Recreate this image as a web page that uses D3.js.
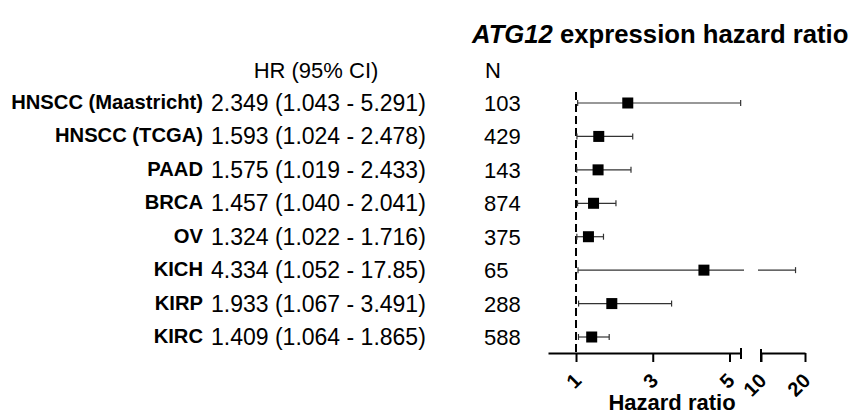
<!DOCTYPE html>
<html>
<head>
<meta charset="utf-8">
<script src="https://cdn.jsdelivr.net/npm/d3@7"></script>
<style>
  body { margin: 0; background: #fff; }
  text { font-family: "Liberation Sans", Arial, sans-serif; fill: #000; }
</style>
</head>
<body>
<div id="chart"></div>
<script>
// data
var cohorts = ["HNSCC (Maastricht)", "HNSCC (TCGA)", "PAAD", "BRCA", "OV", "KICH", "KIRP", "KIRC"];
var hr      = [2.349, 1.593, 1.575, 1.457, 1.324, 4.334, 1.933, 1.409];
var lower   = [1.043, 1.024, 1.019, 1.040, 1.022, 1.052, 1.067, 1.064];
var upper   = [5.291, 2.478, 2.433, 2.041, 1.716, 17.85, 3.491, 1.865];
var hrText  = ["2.349 (1.043 - 5.291)", "1.593 (1.024 - 2.478)", "1.575 (1.019 - 2.433)",
               "1.457 (1.040 - 2.041)", "1.324 (1.022 - 1.716)", "4.334 (1.052 - 17.85)",
               "1.933 (1.067 - 3.491)", "1.409 (1.064 - 1.865)"];
var nText   = ["103", "429", "143", "874", "375", "65", "288", "588"];
var ticks1  = [1, 3, 5];
var ticks2  = [10, 20];

var width = 852, height = 417;

var svg = d3.select("#chart").append("svg")
    .attr("width", width)
    .attr("height", height);

// rows
var y = d3.scalePoint()
    .domain(cohorts)
    .range([103, 337]);

// broken x axis: two linear pieces
var x1 = d3.scaleLinear().domain([0.27, 5.3]).range([548, 741]);
var x2 = d3.scaleLinear().domain([10, 20]).range([761, 805]);
var axisY = 353;

function xPos(v) {
    return v <= 5.3 ? x1(v) : x2(v);
}

var rows = cohorts.map(function(c, i) {
    return {name: c, hr: hr[i], lo: lower[i], hi: upper[i], txt: hrText[i], n: nText[i]};
});

// title
var title = svg.append("text")
    .attr("x", 472)
    .attr("y", 43)
    .style("font-size", "25.7px")
    .style("font-weight", "bold");
title.append("tspan").style("font-style", "italic").text("ATG12");
title.append("tspan").text(" expression hazard ratio");

// column headers
svg.append("text")
    .attr("x", 316)
    .attr("y", 78)
    .attr("text-anchor", "middle")
    .style("font-size", "22px")
    .text("HR (95% CI)");

svg.append("text")
    .attr("x", 485)
    .attr("y", 78)
    .style("font-size", "22px")
    .text("N");

// cohort labels
svg.selectAll(".label")
    .data(rows)
    .enter().append("text")
    .attr("class", "label")
    .attr("x", 203)
    .attr("y", function(d) { return y(d.name) + 6; })
    .attr("text-anchor", "end")
    .style("font-size", "20.2px")
    .style("font-weight", "bold")
    .text(function(d) { return d.name; });

// HR (95% CI) column
svg.selectAll(".hrtxt")
    .data(rows)
    .enter().append("text")
    .attr("class", "hrtxt")
    .attr("x", 211)
    .attr("y", function(d) { return y(d.name) + 8; })
    .style("font-size", "23px")
    .text(function(d) { return d.txt; });

// N column
svg.selectAll(".ntxt")
    .data(rows)
    .enter().append("text")
    .attr("class", "ntxt")
    .attr("x", 484)
    .attr("y", function(d) { return y(d.name) + 8; })
    .style("font-size", "22px")
    .text(function(d) { return d.n; });

// reference line at HR = 1
svg.append("line")
    .attr("x1", x1(1)).attr("x2", x1(1))
    .attr("y1", 92).attr("y2", axisY)
    .attr("stroke", "#000")
    .attr("stroke-width", 2)
    .style("stroke-dasharray", "8, 4");

// CI lines (split at the axis break)
var ci = svg.append("g");
rows.forEach(function(d) {
    var yy = y(d.name);
    if (d.hi <= 5.3) {
        ci.append("line")
            .attr("x1", xPos(d.lo)).attr("x2", xPos(d.hi))
            .attr("y1", yy).attr("y2", yy)
            .attr("stroke", "#333").attr("stroke-width", 1.2);
    } else {
        ci.append("line")
            .attr("x1", xPos(d.lo)).attr("x2", x1.range()[1] + 3)
            .attr("y1", yy).attr("y2", yy)
            .attr("stroke", "#333").attr("stroke-width", 1.2);
        ci.append("line")
            .attr("x1", x2.range()[0] - 3).attr("x2", xPos(d.hi))
            .attr("y1", yy).attr("y2", yy)
            .attr("stroke", "#333").attr("stroke-width", 1.2);
    }
    [d.lo, d.hi].forEach(function(v) {
        ci.append("line")
            .attr("x1", xPos(v)).attr("x2", xPos(v))
            .attr("y1", yy - 3).attr("y2", yy + 3)
            .attr("stroke", "#333").attr("stroke-width", 1.2);
    });
});

// squares
var s = 11;
svg.selectAll(".pt")
    .data(rows)
    .enter().append("rect")
    .attr("class", "pt")
    .attr("x", function(d) { return xPos(d.hr) - s / 2; })
    .attr("y", function(d) { return y(d.name) - s / 2; })
    .attr("width", s)
    .attr("height", s)
    .attr("fill", "#000");

// x axis, segment 1
var ax1 = svg.append("g")
    .attr("transform", "translate(0," + axisY + ")")
    .call(d3.axisBottom(x1).tickValues(ticks1).tickSize(9).tickSizeOuter(0).tickFormat(d3.format("d")));

// x axis, segment 2
var ax2 = svg.append("g")
    .attr("transform", "translate(0," + axisY + ")")
    .call(d3.axisBottom(x2).tickValues(ticks2).tickSize(9).tickSizeOuter(0).tickFormat(d3.format("d")));

[ax1, ax2].forEach(function(ax) {
    ax.select(".domain").attr("stroke-width", 2);
    ax.selectAll(".tick line").attr("stroke-width", 2);
    ax.selectAll(".tick text")
        .attr("y", 0).attr("dy", 0)
        .attr("transform", "translate(6,29) rotate(-45)")
        .attr("text-anchor", "end")
        .style("font-size", "20px")
        .style("font-weight", "bold")
        .style("font-family", "Liberation Sans, Arial, sans-serif");
});

// end caps around the break
svg.append("line")
    .attr("x1", x1.range()[1]).attr("x2", x1.range()[1])
    .attr("y1", axisY - 5).attr("y2", axisY + 6)
    .attr("stroke", "#000").attr("stroke-width", 2);
svg.append("line")
    .attr("x1", x2.range()[0]).attr("x2", x2.range()[0])
    .attr("y1", axisY - 4).attr("y2", axisY + 9)
    .attr("stroke", "#000").attr("stroke-width", 2);

// axis title
svg.append("text")
    .attr("x", 672)
    .attr("y", 410)
    .attr("text-anchor", "middle")
    .style("font-size", "22px")
    .style("font-weight", "bold")
    .text("Hazard ratio");
</script>
</body>
</html>
